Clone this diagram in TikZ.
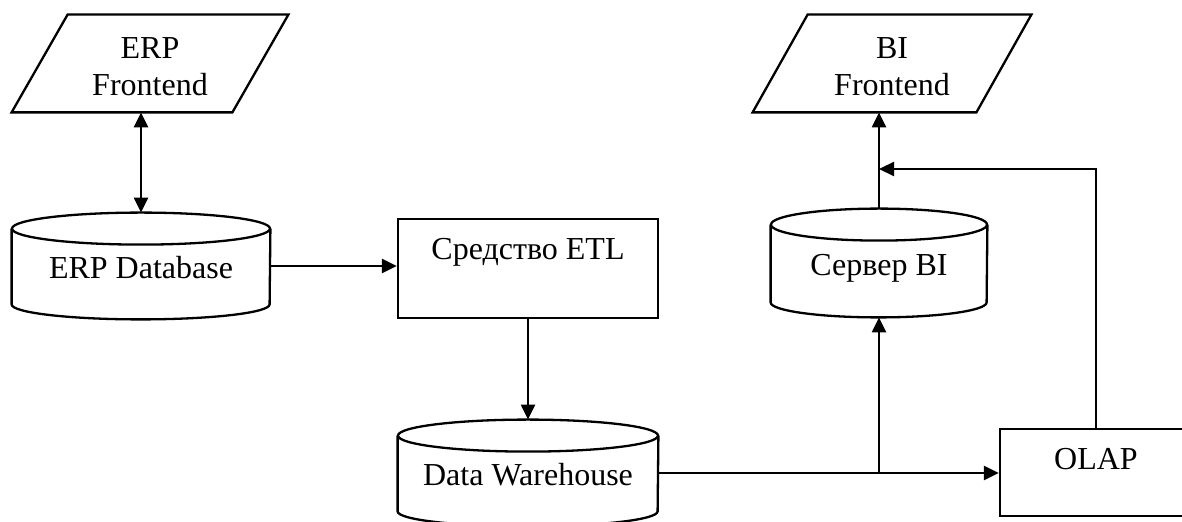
\documentclass[tikz,border=0pt]{standalone}
\usepackage{fontspec}
\setmainfont{Liberation Serif}
\usetikzlibrary{arrows.meta}
\tikzset{
  ln/.style={line width=1.15pt, line join=miter},
  arr/.style={ln, -{Triangle[length=7.5pt,width=7pt]}},
  darr/.style={ln, {Triangle[length=7.5pt,width=7pt]}-{Triangle[length=7.5pt,width=7pt]}},
  txt/.style={font=\fontsize{16}{18.5}\selectfont, inner sep=0pt},
  para/.style={txt, draw=none},
  paralabel/.style={txt, align=center, yshift=-1.7pt},
  cyl/.style={txt, draw=none, text height=12.5pt, text depth=0pt},
  box/.style={txt, ln, draw},
}
\newcommand\cylout[2]{%
  \draw[ln] ([yshift=-8pt]#1.north west) -- ([yshift=7.5pt]#1.south west)
     arc[start angle=180, end angle=360, x radius=#2, y radius=7.5pt]
     -- ([yshift=-8pt]#1.north east);
  \draw[ln] ([yshift=-8pt]#1.north) ellipse[x radius=#2, y radius=8pt];}
\newcommand\paraout[2]{%
  \draw[ln] ([xshift=#2]#1.north west) -- (#1.north east)
     -- ([xshift=-#2]#1.south east) -- (#1.south west) -- cycle;}
\begin{document}
\begin{tikzpicture}[x=0.5pt, y=-0.5pt]
\useasboundingbox (0,0) rectangle (1182,522);
% parallelograms
\node[para, minimum width=138pt, minimum height=48.5pt,
      label={[paralabel]center:ERP\\Frontend}] (erpfe) at (150,63.5) {};
\paraout{erpfe}{28pt}
\node[para, minimum width=139pt, minimum height=48.5pt,
      label={[paralabel]center:BI\\Frontend}] (bife) at (892,63.5) {};
\paraout{bife}{27.5pt}
% cylinders
\node[cyl, minimum width=129pt, minimum height=53pt] (erpdb) at (141,266) {ERP Database};
\cylout{erpdb}{64.5pt}
\node[cyl, minimum width=130pt, minimum height=53pt] (dw) at (528,473) {Data Warehouse};
\cylout{dw}{65pt}
\node[cyl, minimum width=108pt, minimum height=54pt] (bisrv) at (879,263) {Сервер BI};
\cylout{bisrv}{54pt}
% boxes
\node[box, minimum width=130pt, minimum height=49.5pt, text height=10.5pt, text depth=19pt] (etl) at (528,268.5) {Средство ETL};
\node[box, minimum width=96pt, minimum height=43.5pt, text height=10.5pt, text depth=13pt] (olap) at (1096,472.5) {OLAP};
% connectors
\draw[darr] (erpdb.north) -- (erpdb.north |- erpfe.south);
\draw[arr] (erpdb.east) -- (erpdb.east -| etl.west);
\draw[arr] (etl.south) -- (dw.north);
\draw[arr] (dw.east) -- (dw.east -| olap.west);
\coordinate (j1) at (bisrv.south |- dw.east);
\draw[arr] (j1) -- (bisrv.south);
\draw[arr] (bisrv.north) -- (bisrv.north |- bife.south);
\coordinate (j2) at (879,169);
\draw[arr] (olap.north) |- (j2);
\end{tikzpicture}
\end{document}
